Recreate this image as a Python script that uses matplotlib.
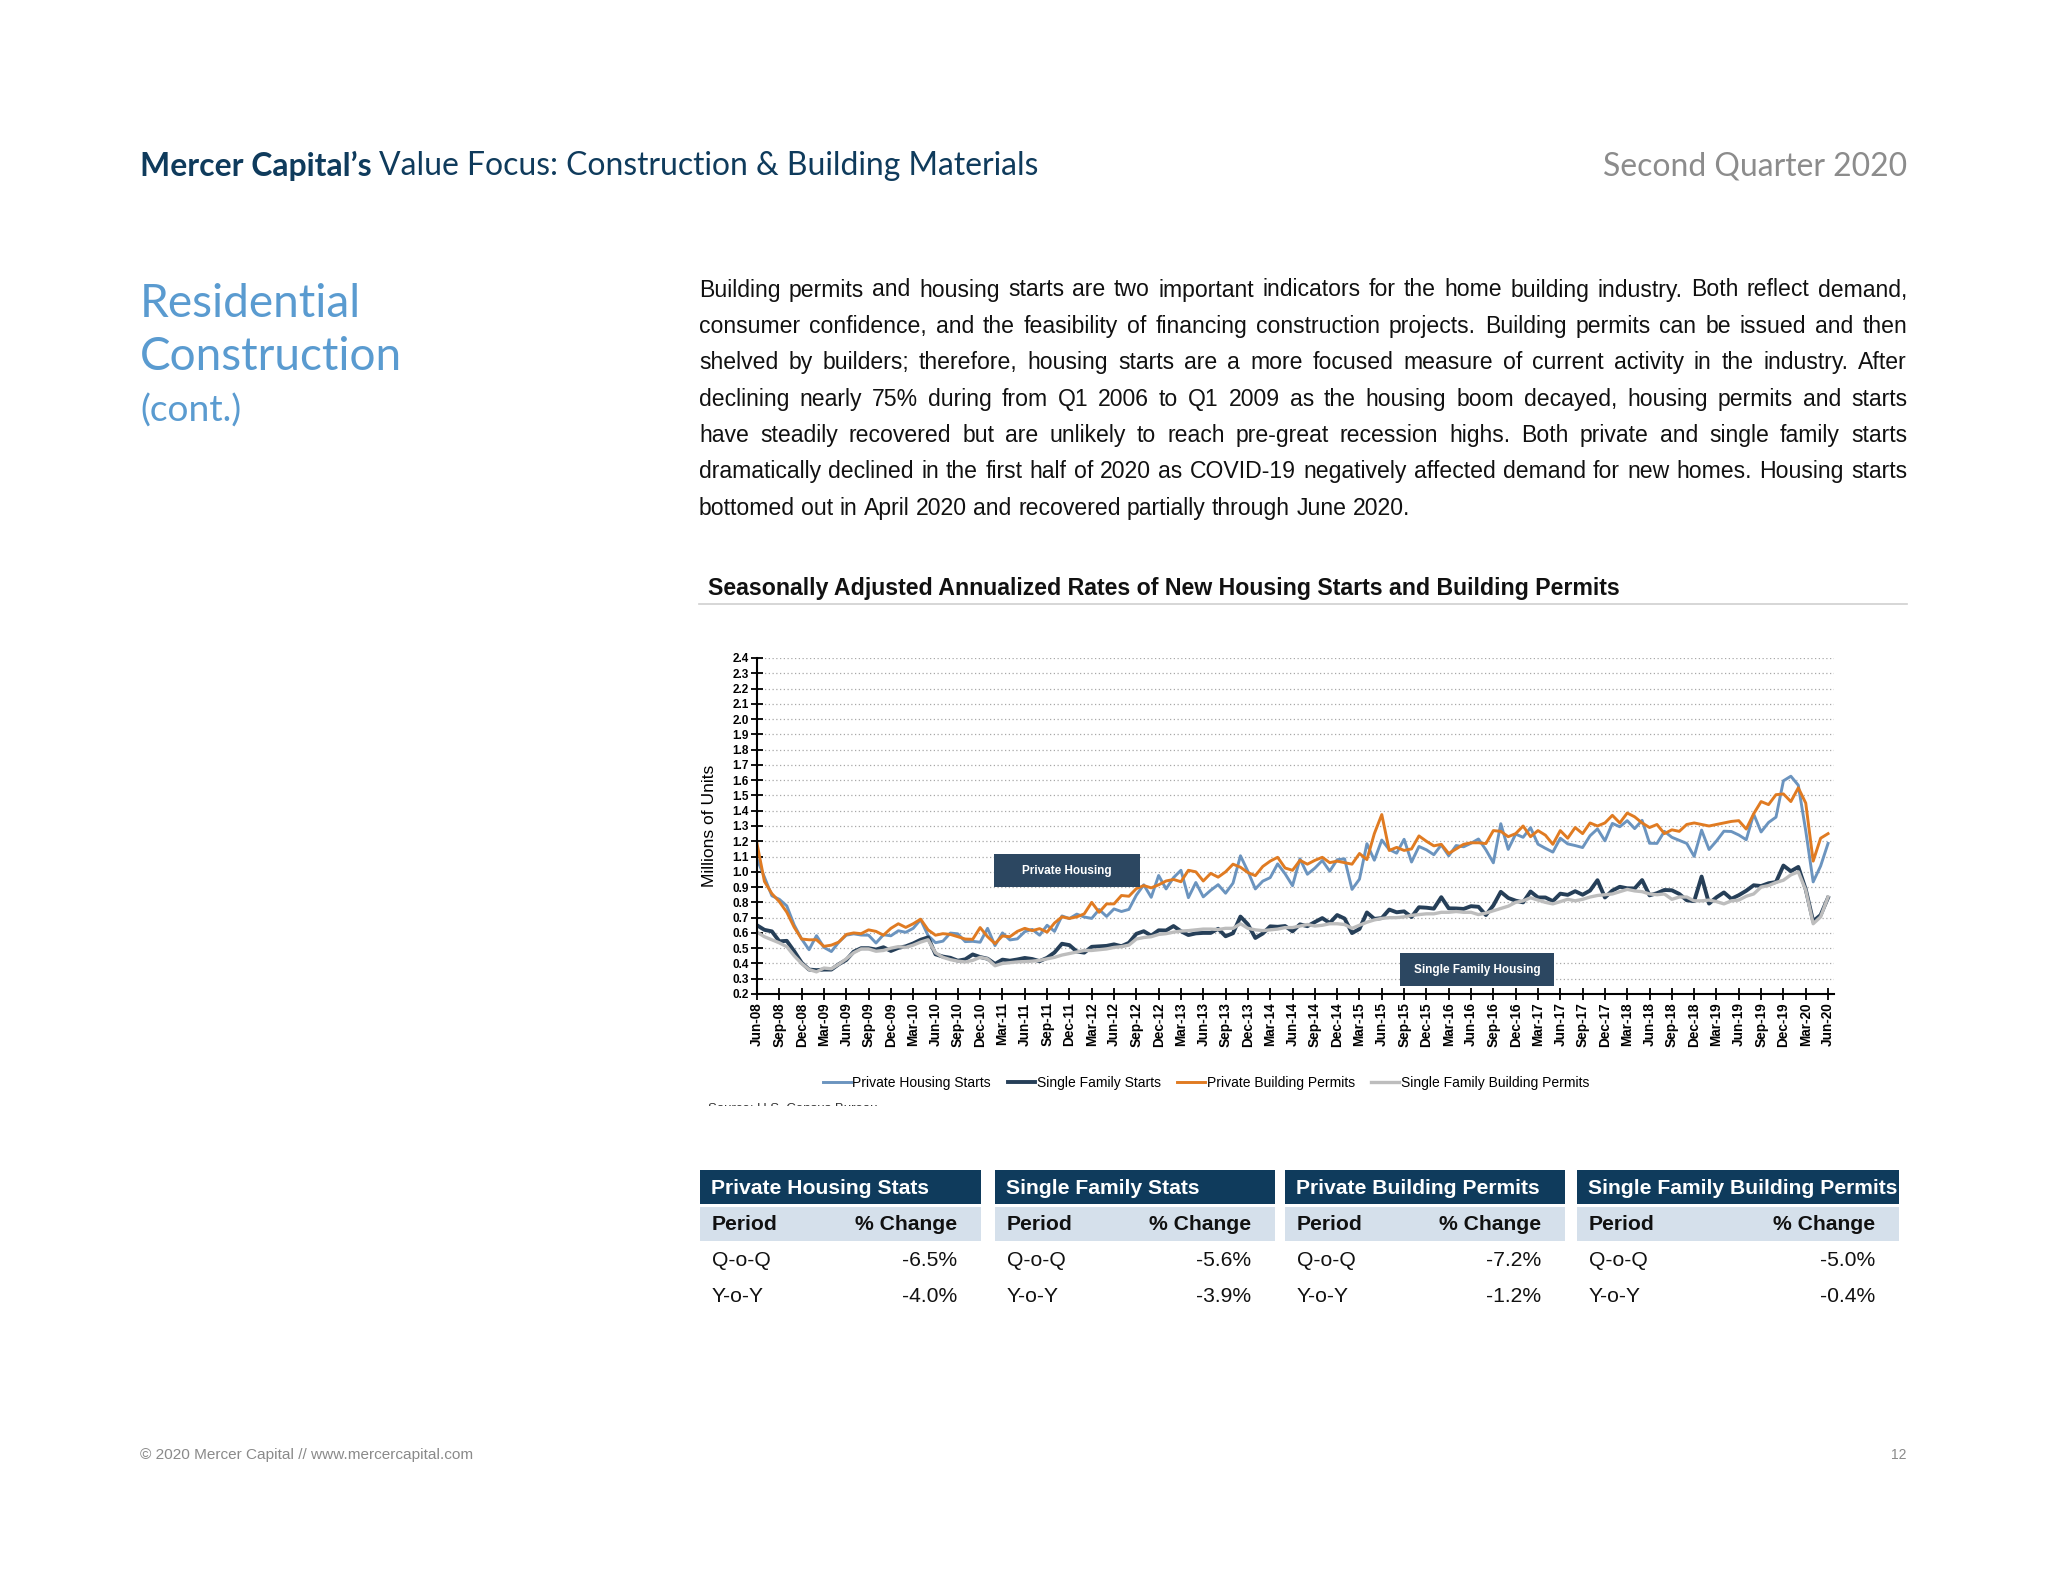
import matplotlib
matplotlib.use("Agg")
import matplotlib.pyplot as plt
from matplotlib.patches import Rectangle
from matplotlib.lines import Line2D
import pandas as pd

# monthly SAAR, millions of units, Jun-08 .. Jun-20
private_starts = [
    1.084, 0.965, 0.843, 0.820, 0.777, 0.652, 0.560,
    0.490, 0.582, 0.505, 0.478, 0.540, 0.585, 0.594, 0.586, 0.585, 0.534, 0.588, 0.581,
    0.614, 0.604, 0.630, 0.687, 0.583, 0.536, 0.546, 0.599, 0.594, 0.543, 0.545, 0.539,
    0.630, 0.517, 0.600, 0.554, 0.561, 0.608, 0.623, 0.585, 0.650, 0.610, 0.711, 0.694,
    0.723, 0.704, 0.695, 0.753, 0.708, 0.757, 0.740, 0.754, 0.847, 0.915, 0.833, 0.976,
    0.888, 0.962, 1.010, 0.831, 0.930, 0.836, 0.879, 0.916, 0.860, 0.926, 1.105, 1.003,
    0.888, 0.939, 0.962, 1.052, 0.987, 0.909, 1.085, 0.984, 1.024, 1.074, 1.004, 1.079,
    1.085, 0.885, 0.952, 1.184, 1.076, 1.208, 1.146, 1.122, 1.213, 1.064, 1.166, 1.144,
    1.112, 1.176, 1.105, 1.172, 1.164, 1.187, 1.215, 1.144, 1.059, 1.315, 1.147, 1.247,
    1.226, 1.289, 1.181, 1.154, 1.129, 1.220, 1.183, 1.172, 1.159, 1.236, 1.281, 1.203,
    1.317, 1.295, 1.335, 1.283, 1.337, 1.187, 1.186, 1.265, 1.226, 1.206, 1.186, 1.101,
    1.273, 1.146, 1.202, 1.266, 1.264, 1.241, 1.210, 1.378, 1.261, 1.323, 1.358, 1.596,
    1.626, 1.567, 1.269, 0.934, 1.038, 1.186,
]
single_starts = [
    0.650, 0.620, 0.610, 0.545, 0.548, 0.480, 0.405,
    0.360, 0.356, 0.360, 0.360, 0.395, 0.423, 0.477, 0.500, 0.500, 0.491, 0.506, 0.482,
    0.502, 0.512, 0.531, 0.555, 0.571, 0.460, 0.445, 0.437, 0.418, 0.427, 0.459, 0.442,
    0.431, 0.397, 0.425, 0.418, 0.426, 0.436, 0.429, 0.415, 0.437, 0.472, 0.529, 0.520,
    0.478, 0.471, 0.509, 0.512, 0.515, 0.525, 0.513, 0.535, 0.594, 0.611, 0.582, 0.617,
    0.616, 0.645, 0.611, 0.586, 0.597, 0.600, 0.600, 0.627, 0.578, 0.598, 0.707, 0.656,
    0.567, 0.596, 0.643, 0.640, 0.645, 0.610, 0.656, 0.644, 0.671, 0.697, 0.665, 0.717,
    0.694, 0.599, 0.626, 0.734, 0.692, 0.697, 0.753, 0.735, 0.741, 0.704, 0.768, 0.765,
    0.759, 0.834, 0.761, 0.760, 0.757, 0.775, 0.771, 0.717, 0.780, 0.869, 0.829, 0.811,
    0.800, 0.871, 0.832, 0.832, 0.808, 0.857, 0.849, 0.873, 0.850, 0.877, 0.945, 0.832,
    0.877, 0.902, 0.892, 0.891, 0.946, 0.846, 0.860, 0.881, 0.879, 0.855, 0.814, 0.808,
    0.969, 0.792, 0.833, 0.865, 0.823, 0.847, 0.876, 0.912, 0.907, 0.925, 0.933, 1.041,
    1.004, 1.032, 0.885, 0.676, 0.717, 0.831,
]
private_permits = [
    1.185, 0.937, 0.857, 0.805, 0.736, 0.637, 0.560,
    0.555, 0.555, 0.512, 0.520, 0.540, 0.590, 0.600, 0.595, 0.620, 0.610, 0.585, 0.630,
    0.660, 0.636, 0.660, 0.690, 0.620, 0.585, 0.595, 0.590, 0.575, 0.560, 0.558, 0.635,
    0.575, 0.530, 0.580, 0.575, 0.610, 0.630, 0.615, 0.628, 0.605, 0.665, 0.705, 0.695,
    0.705, 0.725, 0.800, 0.735, 0.790, 0.790, 0.845, 0.840, 0.890, 0.910, 0.895, 0.915,
    0.940, 0.950, 0.935, 1.010, 1.000, 0.940, 0.990, 0.965, 1.000, 1.050, 1.030, 0.995,
    0.975, 1.035, 1.070, 1.095, 1.025, 1.010, 1.075, 1.050, 1.075, 1.095, 1.060, 1.070,
    1.060, 1.050, 1.120, 1.080, 1.250, 1.375, 1.140, 1.160, 1.140, 1.150, 1.235, 1.200,
    1.170, 1.180, 1.120, 1.150, 1.180, 1.190, 1.190, 1.185, 1.270, 1.265, 1.230, 1.250,
    1.300, 1.230, 1.270, 1.240, 1.180, 1.270, 1.220, 1.290, 1.250, 1.320, 1.300, 1.320,
    1.370, 1.320, 1.385, 1.360, 1.320, 1.290, 1.310, 1.250, 1.275, 1.265, 1.310, 1.320,
    1.310, 1.300, 1.310, 1.320, 1.330, 1.335, 1.280, 1.380, 1.460, 1.440, 1.505, 1.510,
    1.460, 1.550, 1.450, 1.070, 1.220, 1.250,
]
single_permits = [
    0.605, 0.575, 0.555, 0.535, 0.510, 0.450, 0.400,
    0.360, 0.345, 0.370, 0.365, 0.395, 0.430, 0.470, 0.495, 0.495, 0.480, 0.485, 0.500,
    0.510, 0.505, 0.520, 0.540, 0.555, 0.470, 0.440, 0.425, 0.415, 0.410, 0.420, 0.440,
    0.430, 0.385, 0.400, 0.405, 0.410, 0.412, 0.415, 0.420, 0.430, 0.440, 0.455, 0.465,
    0.475, 0.485, 0.485, 0.490, 0.495, 0.505, 0.510, 0.520, 0.560, 0.570, 0.575, 0.590,
    0.595, 0.605, 0.612, 0.615, 0.620, 0.625, 0.625, 0.622, 0.630, 0.630, 0.660, 0.630,
    0.620, 0.615, 0.620, 0.625, 0.635, 0.635, 0.645, 0.655, 0.645, 0.650, 0.660, 0.660,
    0.655, 0.630, 0.650, 0.670, 0.685, 0.695, 0.700, 0.700, 0.705, 0.715, 0.720, 0.725,
    0.725, 0.735, 0.735, 0.740, 0.735, 0.735, 0.720, 0.730, 0.745, 0.760, 0.775, 0.800,
    0.810, 0.830, 0.815, 0.800, 0.790, 0.805, 0.820, 0.810, 0.820, 0.835, 0.845, 0.850,
    0.855, 0.870, 0.885, 0.875, 0.870, 0.855, 0.850, 0.855, 0.820, 0.835, 0.835, 0.810,
    0.810, 0.815, 0.805, 0.790, 0.810, 0.815, 0.840, 0.855, 0.900, 0.910, 0.930, 0.945,
    0.980, 1.000, 0.880, 0.660, 0.705, 0.835,
]

series_names = ["Private Housing Starts", "Single Family Starts",
                "Private Building Permits", "Single Family Building Permits"]
series_colors = ["#6b94bf", "#263f58", "#e07b22", "#bdbdbd"]
series_widths = [2.1, 2.8, 2.1, 2.4]

months = pd.date_range("2008-06-01", periods=len(private_starts), freq="MS")
month_labels = [d.strftime("%b-%y") for d in months]

table_titles = ["Private Housing Stats", "Single Family Stats",
                "Private Building Permits", "Single Family Building Permits"]
periods = ["Q-o-Q", "Y-o-Y"]
table_values = [["-6.5%", "-4.0%"], ["-5.6%", "-3.9%"],
                ["-7.2%", "-1.2%"], ["-5.0%", "-0.4%"]]

paragraph = [
    "Building permits and housing starts are two important indicators for the home building industry.  Both reflect demand,",
    "consumer confidence, and the feasibility of financing construction projects.  Building permits can be issued and then",
    "shelved by builders; therefore, housing starts are a more focused measure of current activity in the industry.  After",
    "declining nearly 75% during from Q1 2006 to Q1 2009 as the housing boom decayed, housing permits and starts",
    "have steadily recovered but are unlikely to reach pre-great recession highs.  Both private and single family starts",
    "dramatically declined in the first half of 2020 as COVID-19 negatively affected demand for new homes.  Housing starts",
    "bottomed out in April 2020 and recovered partially through June 2020.",
]

W, H = 2048, 1582
fig = plt.figure(figsize=(W / 100, H / 100), dpi=100)
fig.patch.set_facecolor("white")
renderer = fig.canvas.get_renderer()


def fx(x):
    return x / W


def fy(y):
    return 1 - y / H


def text_w(s, **kw):
    t = fig.text(0, 0, s, **kw)
    w = t.get_window_extent(renderer).width
    t.remove()
    return w


def fit_size(s, target, **kw):
    return 10 * target / text_w(s, fontsize=10, **kw)


navy = "#0f3b5c"
sans = "Liberation Sans"

# header
hs = fit_size("Mercer Capital\u2019s Value Focus: Construction & Building Materials", 896, family="Lato")
t1 = "Mercer Capital\u2019s "
fig.text(fx(140), fy(166), t1, fontsize=hs, family="Lato", fontweight="bold", color=navy, va="center")
w1 = text_w(t1, fontsize=hs, family="Lato", fontweight="bold")
fig.text(fx(140 + w1), fy(166), "Value Focus: Construction & Building Materials",
         fontsize=hs, family="Lato", color=navy, va="center")
fig.text(fx(1907), fy(166), "Second Quarter 2020",
         fontsize=fit_size("Second Quarter 2020", 304, family="Lato"),
         family="Lato", color="#8c8c8c", va="center", ha="right")

# section title
side_blue = "#5a9bd0"
ss = fit_size("Construction", 264, family="Lato")
fig.text(fx(140), fy(304), "Residential", fontsize=ss, family="Lato", color=side_blue, va="center")
fig.text(fx(140), fy(357), "Construction", fontsize=ss, family="Lato", color=side_blue, va="center")
fig.text(fx(140), fy(411), "(cont.)", fontsize=fit_size("(cont.)", 102, family="Lato"),
         family="Lato", color=side_blue, va="center")

# justified paragraph
left, right = 699, 1907
bs = fit_size(" ".join(paragraph[0].split()), 1185, family=sans)
space = text_w("a a", fontsize=bs, family=sans) - text_w("aa", fontsize=bs, family=sans)
for i, line in enumerate(paragraph):
    words = line.split()
    widths = [text_w(w, fontsize=bs, family=sans) for w in words]
    if i < len(paragraph) - 1:
        gap = (right - left - sum(widths)) / (len(words) - 1)
    else:
        gap = space
    x = left
    y = 290 + i * 36.4
    for w, wd in zip(words, widths):
        fig.text(fx(x), fy(y), w, fontsize=bs, family=sans, color="#111111", va="center")
        x += wd + gap

# chart title
title = "Seasonally Adjusted Annualized Rates of New Housing Starts and Building Permits"
fig.text(fx(708), fy(588), title,
         fontsize=fit_size(title, 917, family=sans, fontweight="bold"),
         family=sans, fontweight="bold", color="#111111", va="center")
fig.add_artist(Line2D([fx(699), fx(1907)], [fy(604), fy(604)], color="#cfcfcf", linewidth=1.2))

# chart
ax = fig.add_axes([fx(757), fy(994), fx(1834) - fx(757), fy(658) - fy(994)])
x = list(range(len(months)))
for vals, name, c, lw in zip([private_starts, single_starts, private_permits, single_permits],
                             series_names, series_colors, series_widths):
    ax.plot(x, vals, color=c, linewidth=lw, label=name, solid_joinstyle="round")

ax.set_xlim(0, 144.8)
ax.set_ylim(0.2, 2.4)
ax.set_yticks([round(0.2 + 0.1 * i, 1) for i in range(23)])
ax.set_yticklabels(["%.1f" % (0.2 + 0.1 * i) for i in range(23)], fontsize=8.5, fontweight="bold", family=sans)
ax.set_xticks(x[::3])
ax.set_xticklabels(month_labels[::3], rotation=90, fontsize=9.8, fontweight="bold", family=sans)
ax.tick_params(axis="both", direction="inout", length=8, width=1.3, pad=2)
ax.yaxis.grid(True, linestyle=(0, (1, 2)), color="#a8a8a8", linewidth=0.9)
ax.set_axisbelow(True)
for s in ["top", "right"]:
    ax.spines[s].set_visible(False)
for s in ["left", "bottom"]:
    ax.spines[s].set_linewidth(1.5)
ax.set_ylabel("Millions of Units", fontsize=12.5, family=sans, labelpad=11)

# chart labels
box_c = "#2c4761"
for (x0, y0, x1, y1), label in [((994, 854, 1140, 887), "Private Housing"),
                                ((1400, 953, 1554, 986), "Single Family Housing")]:
    fig.add_artist(Rectangle((fx(x0), fy(y1)), fx(x1) - fx(x0), fy(y0) - fy(y1),
                             transform=fig.transFigure, facecolor=box_c, edgecolor="none", zorder=5))
    fig.text(fx((x0 + x1) / 2), fy((y0 + y1) / 2), label, fontsize=8.5, fontweight="bold",
             family=sans, color="white", ha="center", va="center", zorder=6)

handles, labels = ax.get_legend_handles_labels()
fig.legend(handles, labels, loc="center", bbox_to_anchor=(fx(1206), fy(1083)), ncol=4, frameon=False,
           prop={"family": sans, "size": 10}, handlelength=2.0, handletextpad=0.1, columnspacing=1.2)

# clipped source line
fig.text(fx(708), fy(1103), "Source: U.S. Census Bureau", fontsize=9.5, family=sans, color="#333333",
         va="top", zorder=3)
fig.add_artist(Rectangle((fx(690), fy(1135)), fx(360), fy(1106) - fy(1135),
                         transform=fig.transFigure, facecolor="white", edgecolor="none", zorder=10))

# stats tables
tables_x = [(700, 981), (995, 1275), (1285, 1565), (1577, 1899)]
ts = fit_size("Single Family Building Permits", 312, family=sans, fontweight="bold")
for (x0, x1), ttl, vals in zip(tables_x, table_titles, table_values):
    fig.add_artist(Rectangle((fx(x0), fy(1204)), fx(x1) - fx(x0), fy(1170) - fy(1204),
                             transform=fig.transFigure, facecolor=navy, edgecolor="none"))
    fig.add_artist(Rectangle((fx(x0), fy(1241)), fx(x1) - fx(x0), fy(1207) - fy(1241),
                             transform=fig.transFigure, facecolor="#d5e0eb", edgecolor="none"))
    fig.text(fx(x0 + 11), fy(1188), ttl, fontsize=ts, fontweight="bold", family=sans,
             color="white", va="center")
    fig.text(fx(x0 + 12), fy(1225), "Period", fontsize=ts, fontweight="bold", family=sans,
             color="#111111", va="center")
    fig.text(fx(x1 - 24), fy(1225), "% Change", fontsize=ts, fontweight="bold", family=sans,
             color="#111111", va="center", ha="right")
    for j, (p, v) in enumerate(zip(periods, vals)):
        yy = 1261 + j * 36
        fig.text(fx(x0 + 12), fy(yy), p, fontsize=ts, family=sans, color="#111111", va="center")
        fig.text(fx(x1 - 24), fy(yy), v, fontsize=ts, family=sans, color="#111111", va="center", ha="right")

# footer
foot = "\u00a9 2020 Mercer Capital // www.mercercapital.com"
fig.text(fx(140), fy(1455), foot, fontsize=fit_size(foot, 334, family=sans),
         family=sans, color="#8a8a8a", va="center")
fig.text(fx(1907), fy(1455), "12", fontsize=10, family=sans, color="#8a8a8a", va="center", ha="right")

fig.savefig("out.png", dpi=100, facecolor="white")
